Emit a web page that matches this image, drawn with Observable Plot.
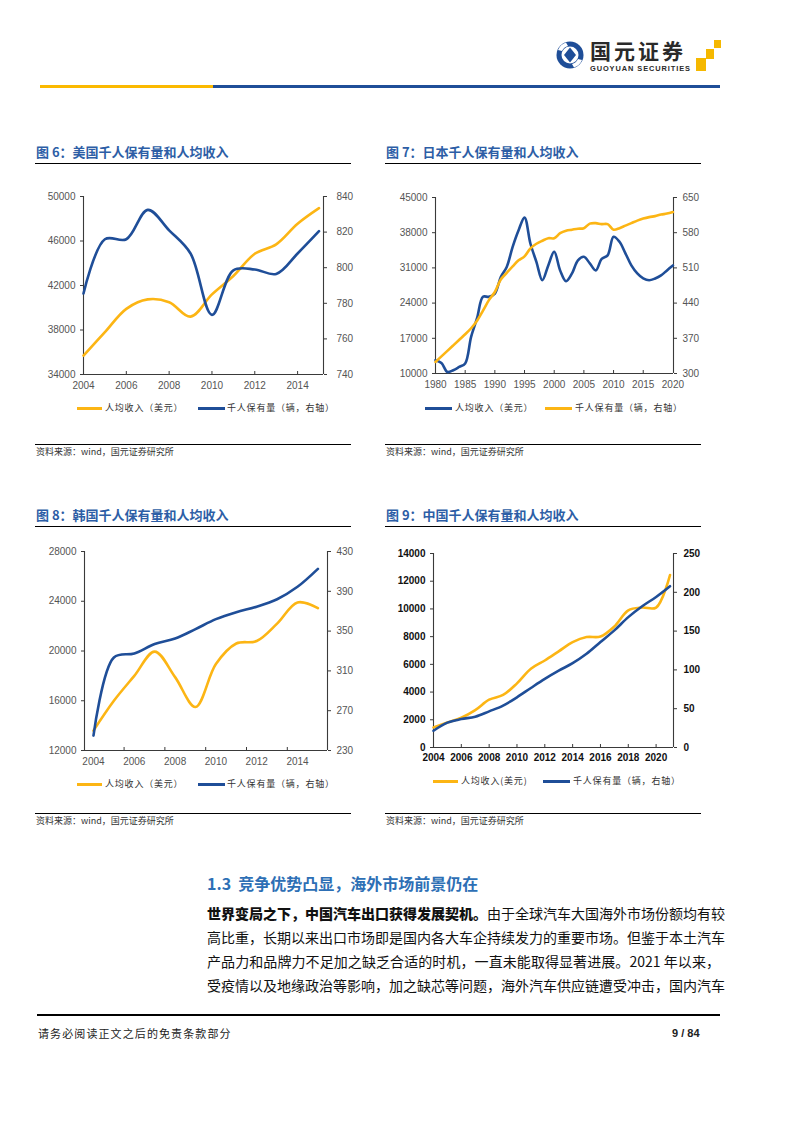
<!DOCTYPE html>
<html>
<head>
<meta charset="utf-8">
<script src="https://cdn.jsdelivr.net/npm/d3@7"></script>
<script src="https://cdn.jsdelivr.net/npm/@observablehq/plot@0.6"></script>
<style>
  html, body { margin: 0; padding: 0; background: #fff; }
  #page { position: relative; width: 794px; height: 1123px; overflow: hidden; font-family: 'Noto Sans CJK SC', 'Liberation Sans', sans-serif; }
  .abs { position: absolute; }
  .title { font-size: 13px; font-weight: 700; color: #2d5ea6; white-space: nowrap; line-height: 16px; }
  .rule { height: 0; border-top: 1.3px solid #000; }
  .src { font-size: 9px; color: #333; white-space: nowrap; line-height: 12px; }
  .leg { font-size: 9px; color: #333; white-space: nowrap; line-height: 12px; letter-spacing: 0.8px; }
  .sw { height: 3px; }
  .chart svg { overflow: visible; }
  .para { font-size: 14px; color: #111; line-height: 20px; text-align: justify; text-align-last: justify; white-space: nowrap; width: 513px; }
</style>
</head>
<body>
<div id="page"></div>
<script>
// ---------------- DATA ----------------
const usYears = [2004, 2005, 2006, 2007, 2008, 2009, 2010, 2011, 2012, 2013, 2014, 2015];
const usIncome = [35700, 37800, 39900, 40750, 40500, 39200, 41200, 42850, 44850, 45700, 47550, 48950];
const usOwnership = [785.5, 816, 816, 832.5, 821, 808, 773.5, 798.5, 799, 796.5, 808, 820.5];

const jpYears = d3.range(1980, 2021);
const jpIncome = [12650, 12100, 10300, 10660, 11300, 12000, 17300, 21000, 25250, 25250,
                  25900, 29200, 31200, 35200, 38500, 41000, 35800, 32200, 28550, 31500,
                  34200, 30500, 28350, 29900, 32500, 33200, 31900, 30500, 32800, 33500,
                  37200, 36200, 33900, 31500, 29900, 28900, 28550, 28900, 29500, 30500, 31500];
const jpOwnership = [323, 334, 345, 356, 367, 378, 390, 405, 425, 446,
                     462, 487, 500, 513, 525, 533, 549, 558, 564, 569,
                     569, 579, 584, 586, 588, 589, 598, 599, 597, 597,
                     586, 589, 594, 599, 604, 608, 611, 613, 616, 618, 621];

const krYears = [2004, 2005, 2006, 2007, 2008, 2009, 2010, 2011, 2012, 2013, 2014, 2015];
const krIncome = [13600, 16000, 18000, 19950, 17900, 15500, 18950, 20600, 20800, 22200, 23900, 23450];
const krOwnership = [245, 323.5, 327.5, 337, 342.5, 352, 362, 369, 374.5, 382, 394.5, 412.5];

const cnYears = d3.range(2004, 2022);
const cnIncome = [1450, 1800, 2150, 2700, 3450, 3790, 4630, 5680, 6280, 6940, 7600, 7970, 8010, 8740, 9900, 10100, 10100, 12450];
const cnOwnership = [21.6, 32, 36.6, 39.7, 46.6, 54, 64.7, 76.7, 88.4, 99, 108.6, 120.7, 135.8, 150.9, 168, 182, 194, 207.8];

// tick labels
const usLeftTicks = [34000, 38000, 42000, 46000, 50000];
const usRightTicks = [740, 760, 780, 800, 820, 840];
const usXTicks = [2004, 2006, 2008, 2010, 2012, 2014];
const jpLeftTicks = [10000, 17000, 24000, 31000, 38000, 45000];
const jpRightTicks = [300, 370, 440, 510, 580, 650];
const jpXTicks = [1980, 1985, 1990, 1995, 2000, 2005, 2010, 2015, 2020];
const krLeftTicks = [12000, 16000, 20000, 24000, 28000];
const krRightTicks = [230, 270, 310, 350, 390, 430];
const krXTicks = [2004, 2006, 2008, 2010, 2012, 2014];
const krXTickMarks = [2005.5, 2007.5, 2009.5, 2011.5, 2013.5];
const cnLeftTicks = [0, 2000, 4000, 6000, 8000, 10000, 12000, 14000];
const cnRightTicks = [0, 50, 100, 150, 200, 250];
const cnXTicks = [2004, 2006, 2008, 2010, 2012, 2014, 2016, 2018, 2020];

const titles = ["图 6：美国千人保有量和人均收入", "图 7：日本千人保有量和人均收入", "图 8：韩国千人保有量和人均收入", "图 9：中国千人保有量和人均收入"];
const legIncome = "人均收入（美元）";
const legIncomeCn = "人均收入(美元)";
const legOwn = "千人保有量（辆，右轴）";
const source = "资料来源：wind，国元证券研究所";

const YELLOW = "#fcb514";
const BLUE = "#1f4e98";
const AXIS = "#3a3a3a";
const NUMFONT = "'Liberation Sans', Arial, sans-serif";

const page = document.getElementById("page");
function el(tag, cls, css, text) {
  const e = document.createElement(tag);
  if (cls) e.className = cls;
  Object.assign(e.style, css || {});
  if (text != null) e.textContent = text;
  page.appendChild(e);
  return e;
}

function dualChart(cfg) {
  const {years, left, right, leftColor, rightColor, leftFirst = true, xDomain, leftDomain, rightDomain,
         leftTicks, rightTicks, xTicks, xTickMarks, width, height, ml, mr, mt, mb,
         labelColor, rightPad, xPad, fontSize = 10, fontWeight = 400} = cfg;
  const table = years.map((y, i) => ({year: y, left: left[i], right: right[i]}));
  const toLeft = d3.scaleLinear(rightDomain, leftDomain);
  const y0 = leftDomain[0];
  const tickLen = (leftDomain[1] - leftDomain[0]) * 3 / (height - mt - mb);
  const leftLine = Plot.line(table, {x: "year", y: "left", stroke: leftColor, strokeWidth: 2.6, curve: "catmull-rom"});
  const rightLine = Plot.line(table, {x: "year", y: d => toLeft(d.right), stroke: rightColor, strokeWidth: 2.6, curve: "catmull-rom"});
  return Plot.plot({
    width, height, marginLeft: ml, marginRight: mr, marginTop: mt, marginBottom: mb,
    x: {domain: xDomain, axis: null, label: null},
    y: {domain: leftDomain, axis: null, label: null},
    style: {fontFamily: NUMFONT, fontSize: fontSize + "px", fontWeight: fontWeight, background: "transparent", overflow: "visible"},
    marks: [
      Plot.axisY(leftTicks, {anchor: "left", tickSize: 3, tickPadding: 5, tickFormat: d => String(d), stroke: AXIS, fill: labelColor, label: null}),
      Plot.axisY(rightTicks.map(toLeft), {anchor: "right", tickSize: 3, tickPadding: rightPad, tickFormat: d => String(Math.round(toLeft.invert(d))), stroke: AXIS, fill: labelColor, textAnchor: "start", label: null}),
      Plot.axisX(xTicks, {anchor: "bottom", tickSize: 0, tickPadding: xPad, tickFormat: d => String(d), fill: labelColor, label: null}),
      Plot.ruleX(xTickMarks, {y1: y0, y2: y0 + tickLen, stroke: AXIS}),
      Plot.ruleX([xDomain[0], xDomain[1]], {stroke: AXIS, strokeWidth: 1.1}),
      Plot.ruleY([y0], {stroke: AXIS, strokeWidth: 1.1}),
      ...(leftFirst ? [leftLine, rightLine] : [rightLine, leftLine])
    ]
  });
}

function place(svg, x, y) {
  const d = el("div", "abs chart", {left: x + "px", top: y + "px"});
  d.appendChild(svg);
}

function panel(px, titleY, title, ruleTop, ruleBottom) {
  el("div", "abs title", {left: (px + 1) + "px", top: (titleY - 8) + "px"}, title);
  el("div", "abs rule", {left: px + "px", top: ruleTop + "px", width: "316px"});
  el("div", "abs rule", {left: px + "px", top: ruleBottom + "px", width: "316px"});
  el("div", "abs src", {left: (px + 1) + "px", top: (ruleBottom + 2) + "px"}, source);
}

function legend(y, items) {
  for (const it of items) {
    el("div", "abs sw", {left: it.x0 + "px", top: (y - 1.5) + "px", width: (it.x1 - it.x0) + "px", background: it.color});
    el("div", "abs leg", {left: it.tx + "px", top: (y - 6) + "px"}, it.text);
  }
}

// ---------------- HEADER ----------------
const hdr = el("div", "abs", {left: "552px", top: "36px", width: "172px", height: "40px"});
hdr.innerHTML = `
<svg width="172" height="40" viewBox="0 0 172 40">
  <circle cx="18" cy="19" r="13.5" fill="#1f4e98"/>
  <circle cx="18" cy="19" r="8.5" fill="#fff"/>
  <path d="M18 11.5 L24 19 L18 26.5 L12 19 Z" fill="#1f4e98"/>
  <path d="M6 14 A13 13 0 0 1 14 6.5 L16 10 A9 9 0 0 0 10 15 Z" fill="#fff"/>
  <path d="M30 24 A13 13 0 0 1 22 31.5 L20 28 A9 9 0 0 0 26 23 Z" fill="#fff"/>
  <text x="38" y="23" font-family="'Noto Sans CJK SC'" font-weight="700" font-size="21" letter-spacing="3" fill="#2a2a2a">国元证券</text>
  <text x="38" y="34.5" font-family="'Liberation Sans', Arial" font-weight="700" font-size="7.4" fill="#2a2a2a" textLength="100">GUOYUAN SECURITIES</text>
  <rect x="144" y="22" width="10" height="13" fill="#f5b800"/>
  <rect x="154" y="13" width="8" height="10" fill="#f5b800"/>
  <rect x="162" y="4" width="7" height="8" fill="#f5b800"/>
</svg>`;
el("div", "abs", {left: "40px", top: "85px", width: "173px", height: "2.5px", background: "#fbb900"});
el("div", "abs", {left: "213px", top: "85px", width: "507px", height: "2.5px", background: "#1f4e98"});

// ---------------- PANELS ----------------
panel(35, 152, titles[0], 163, 444);
panel(385, 152, titles[1], 163, 444);
panel(35, 515, titles[2], 526, 813);
panel(385, 515, titles[3], 526, 813);

// Chart 6 – USA
place(dualChart({
  years: usYears, left: usIncome, right: usOwnership, leftColor: YELLOW, rightColor: BLUE,
  xDomain: [2004, 2015.21], leftDomain: [34000, 50000], rightDomain: [740, 840],
  leftTicks: usLeftTicks, rightTicks: usRightTicks, xTicks: usXTicks, xTickMarks: usXTicks.slice(1),
  width: 330, height: 210, ml: 48, mr: 42, mt: 10, mb: 22, labelColor: "#555", rightPad: 10, xPad: 7
}), 35, 186);
legend(408, [
  {x0: 77, x1: 102, tx: 105, color: YELLOW, text: legIncome},
  {x0: 198, x1: 225, tx: 227, color: BLUE, text: legOwn}
]);

// Chart 7 – Japan
place(dualChart({
  years: jpYears, left: jpIncome, right: jpOwnership, leftColor: BLUE, rightColor: YELLOW,
  xDomain: [1980, 2020.1], leftDomain: [10000, 45000], rightDomain: [300, 650],
  leftTicks: jpLeftTicks, rightTicks: jpRightTicks, xTicks: jpXTicks, xTickMarks: jpXTicks.slice(1, -1),
  width: 330, height: 208, ml: 50, mr: 42, mt: 10, mb: 22, labelColor: "#555", rightPad: 6, xPad: 7
}), 385, 187);
legend(408, [
  {x0: 425, x1: 452, tx: 455, color: BLUE, text: legIncome},
  {x0: 545, x1: 572, tx: 575, color: YELLOW, text: legOwn}
]);

// Chart 8 – Korea
place(dualChart({
  years: krYears, left: krIncome, right: krOwnership, leftColor: YELLOW, rightColor: BLUE,
  xDomain: [2003.56, 2015.47], leftDomain: [12000, 28000], rightDomain: [230, 430],
  leftTicks: krLeftTicks, rightTicks: krRightTicks, xTicks: krXTicks, xTickMarks: krXTickMarks,
  width: 330, height: 231, ml: 49, mr: 38, mt: 10, mb: 22, labelColor: "#555", rightPad: 6, xPad: 7
}), 35, 541);
legend(784, [
  {x0: 77, x1: 102, tx: 105, color: YELLOW, text: legIncome},
  {x0: 198, x1: 225, tx: 227, color: BLUE, text: legOwn}
]);

// Chart 9 – China
place(dualChart({
  years: cnYears, left: cnIncome, right: cnOwnership, leftColor: YELLOW, rightColor: BLUE,
  xDomain: [2004, 2021.25], leftDomain: [0, 14000], rightDomain: [0, 250],
  leftTicks: cnLeftTicks, rightTicks: cnRightTicks, xTicks: cnXTicks, xTickMarks: cnXTicks.slice(1),
  width: 330, height: 226, ml: 48, mr: 42, mt: 10, mb: 22, labelColor: "#111", rightPad: 7, xPad: 6, fontWeight: 600
}), 385, 543);
legend(781, [
  {x0: 433, x1: 458, tx: 461, color: YELLOW, text: legIncomeCn},
  {x0: 543, x1: 570, tx: 573, color: BLUE, text: legOwn}
]);

// ---------------- BODY TEXT ----------------
el("div", "abs", {left: "207px", top: "872px", fontSize: "16px", fontWeight: "700", color: "#2d6fb5", whiteSpace: "pre", lineHeight: "22px"},
   "1.3  竞争优势凸显，海外市场前景仍在");
const lines = [
  ["世界变局之下，中国汽车出口获得发展契机。", "由于全球汽车大国海外市场份额均有较"],
  ["", "高比重，长期以来出口市场即是国内各大车企持续发力的重要市场。但鉴于本土汽车"],
  ["", "产品力和品牌力不足加之缺乏合适的时机，一直未能取得显著进展。2021 年以来，"],
  ["", "受疫情以及地缘政治等影响，加之缺芯等问题，海外汽车供应链遭受冲击，国内汽车"]
];
lines.forEach((ln, i) => {
  const d = el("div", "abs para", {left: "207px", top: (903 + i * 24) + "px"});
  if (ln[0]) { const b = document.createElement("b"); b.textContent = ln[0]; b.style.fontWeight = "900"; d.appendChild(b); }
  d.appendChild(document.createTextNode(ln[1]));
});

// ---------------- FOOTER ----------------
el("div", "abs", {left: "37px", top: "1014px", width: "683px", height: "2px", background: "#000"});
el("div", "abs", {left: "38px", top: "1026px", fontSize: "11px", letterSpacing: "1.1px", color: "#222", whiteSpace: "nowrap", lineHeight: "14px"}, "请务必阅读正文之后的免责条款部分");
el("div", "abs", {left: "672px", top: "1026px", fontSize: "11px", fontWeight: "700", color: "#222", whiteSpace: "nowrap", lineHeight: "14px", fontFamily: NUMFONT}, "9 / 84");
</script>
</body>
</html>
